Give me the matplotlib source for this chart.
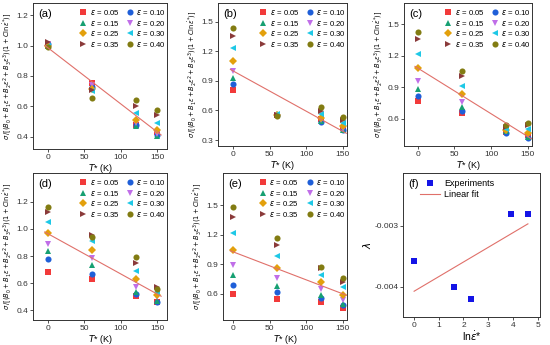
import numpy as np
import matplotlib.pyplot as plt

plt.rcParams['font.family'] = ['Liberation Sans', 'DejaVu Sans']
plt.rcParams['mathtext.fontset'] = 'dejavusans'

# temperatures and strains
T = [0, 60, 120, 150]
strains = ['0.05', '0.10', '0.15', '0.20', '0.25', '0.30', '0.35', '0.40']
colors = ['#f23a3a', '#1f5fd8', '#17a072', '#c06ee8', '#e3a00c', '#1ec8e6', '#8a3a3a', '#827c12']
markers = ['s', 'o', '^', 'v', 'D', '<', '>', 'o']

# values per panel: one row per strain, one column per temperature
data_a = [[1.00, 0.756, 0.48, 0.43],
          [1.01, 0.73, 0.475, 0.41],
          [1.00, 0.72, 0.47, 0.408],
          [1.01, 0.738, 0.489, 0.42],
          [1.00, 0.712, 0.513, 0.445],
          [1.00, 0.70, 0.556, 0.489],
          [1.024, 0.71, 0.604, 0.541],
          [0.99, 0.658, 0.643, 0.576]]
data_b = [[0.81, 0.555, 0.51, 0.42],
          [0.865, 0.555, 0.48, 0.40],
          [0.925, 0.56, 0.49, 0.40],
          [1.00, 0.555, 0.50, 0.41],
          [1.105, 0.55, 0.52, 0.44],
          [1.23, 0.565, 0.562, 0.474],
          [1.359, 0.55, 0.595, 0.50],
          [1.434, 0.545, 0.634, 0.53]]
data_c = [[0.765, 0.65, 0.47, 0.44],
          [0.82, 0.672, 0.46, 0.413],
          [0.881, 0.713, 0.48, 0.43],
          [0.962, 0.76, 0.48, 0.44],
          [1.084, 0.831, 0.49, 0.46],
          [1.219, 0.912, 0.50, 0.50],
          [1.353, 1.006, 0.52, 0.54],
          [1.428, 1.056, 0.537, 0.563]]
data_d = [[0.683, 0.628, 0.508, 0.46],
          [0.775, 0.671, 0.52, 0.46],
          [0.835, 0.732, 0.539, 0.472],
          [0.888, 0.784, 0.575, 0.496],
          [0.967, 0.847, 0.631, 0.515],
          [1.049, 0.912, 0.691, 0.535],
          [1.123, 0.955, 0.751, 0.575],
          [1.157, 0.943, 0.792, 0.558]]
data_e = [[0.60, 0.547, 0.517, 0.45],
          [0.691, 0.614, 0.55, 0.48],
          [0.791, 0.674, 0.59, 0.49],
          [0.891, 0.758, 0.647, 0.533],
          [1.048, 0.865, 0.717, 0.59],
          [1.219, 0.985, 0.791, 0.664],
          [1.383, 1.099, 0.865, 0.717],
          [1.483, 1.166, 0.875, 0.758]]

# fitted lines: (intercept, slope)
fits = [(0.987, -0.00371), (1.00, -0.00407), (1.08, -0.00433), (0.965, -0.00297), (1.025, -0.00285)]

# panel (f)
ln_rate = [0.0, 1.61, 2.30, 3.91, 4.61]
lam = [-0.00358, -0.0040, -0.00421, -0.00280, -0.00280]

W, H = 550, 345
def box(l, r, t, b):
    return [l / W, 1 - b / H, (r - l) / W, (b - t) / H]

fig = plt.figure(figsize=(5.5, 3.45), dpi=100)

panels = [
    ('(a)', data_a, box(33, 167, 3, 149), (-20, 163), (0.32, 1.28), [0.4, 0.6, 0.8, 1.0, 1.2]),
    ('(b)', data_b, box(218, 347, 3, 146), (-21, 156), (0.24, 1.69), [0.3, 0.6, 0.9, 1.2, 1.5]),
    ('(c)', data_c, box(404, 532, 3, 146), (-19, 156), (0.34, 1.70), [0.6, 0.9, 1.2, 1.5]),
    ('(d)', data_d, box(33, 167, 173, 320), (-20, 163), (0.33, 1.41), [0.4, 0.6, 0.8, 1.0, 1.2]),
    ('(e)', data_e, box(223, 347, 173, 320), (-14, 156), (0.33, 1.83), [0.6, 0.9, 1.2, 1.5]),
]

ylab = r'$\sigma\,/[(B_0+B_1\varepsilon+B_2\varepsilon^2+B_3\varepsilon^3)(1+C\ln\dot{\varepsilon}^{*})]$'

def style(ax):
    for s in ax.spines.values():
        s.set_linewidth(0.7)
        s.set_color('#333333')
    ax.tick_params(direction='out', length=2.5, width=0.6, labelsize=6, pad=1,
                   top=False, right=False, colors='#333333')

# legend order: row-wise like the reference (0.05 0.10 / 0.15 0.20 / ...)
order = [0, 2, 4, 6, 1, 3, 5, 7]

for k, (tag, d, pos, xl, yl, yt) in enumerate(panels):
    ax = fig.add_axes(pos)
    hs = []
    for i in range(len(strains)):
        h, = ax.plot(T, d[i], linestyle='none', marker=markers[i], color=colors[i],
                     markersize=4.4 if markers[i] != 'D' else 3.7, markeredgewidth=0,
                     label=r'$\varepsilon$ = ' + strains[i])
        hs.append(h)
    b0, b1 = fits[k]
    xx = np.array([-4, 155])
    ax.plot(xx, b0 + b1 * xx, color='#e0706a', lw=0.8)
    ax.set_xlim(xl)
    ax.set_ylim(yl)
    ax.set_xticks([0, 50, 100, 150])
    ax.set_yticks(yt)
    ax.set_xlabel(r'$T$* (K)', fontsize=6.5, labelpad=0.5)
    ax.set_ylabel(ylab, fontsize=4.8, labelpad=1.5)
    ax.text(0.04, 0.96, tag, transform=ax.transAxes, fontsize=8, va='top', ha='left')
    ax.legend([hs[j] for j in order], [hs[j].get_label() for j in order],
              loc='upper right', ncol=2, frameon=False, fontsize=5.6, handletextpad=0.15,
              columnspacing=0.7, labelspacing=0.2, borderaxespad=0.25, handlelength=1.3,
              bbox_to_anchor=(1.03, 1.0))
    style(ax)

# panel (f)
ax = fig.add_axes(box(403, 540, 173, 317))
ax.plot(ln_rate, lam, linestyle='none', marker='s', color='#1414e6', markersize=4.5,
        markeredgewidth=0, label='Experiments')
p = np.polyfit(ln_rate, lam, 1)
xx = np.array([0, 4.61])
ax.plot(xx, np.polyval(p, xx), color='#e0706a', lw=0.8, label='Linear fit')
ax.set_xlim(-0.45, 5.1)
ax.set_ylim(-0.0045, -0.00213)
ax.set_xticks([0, 1, 2, 3, 4, 5])
ax.set_yticks([-0.004, -0.003])
ax.set_yticklabels(['-0.004', '-0.003'])
ax.set_xlabel(r'ln$\dot{\varepsilon}$*', fontsize=7.5, labelpad=0.5)
ax.set_ylabel(r'$\lambda$', fontsize=7.5, labelpad=1)
ax.text(0.04, 0.96, '(f)', transform=ax.transAxes, fontsize=8, va='top', ha='left')
ax.legend(loc='upper left', frameon=False, fontsize=6.5, handlelength=2.2,
          handletextpad=0.4, labelspacing=0.2, bbox_to_anchor=(0.08, 1.0),
          borderaxespad=0.3)
style(ax)

fig.savefig('out.png', dpi=100)
